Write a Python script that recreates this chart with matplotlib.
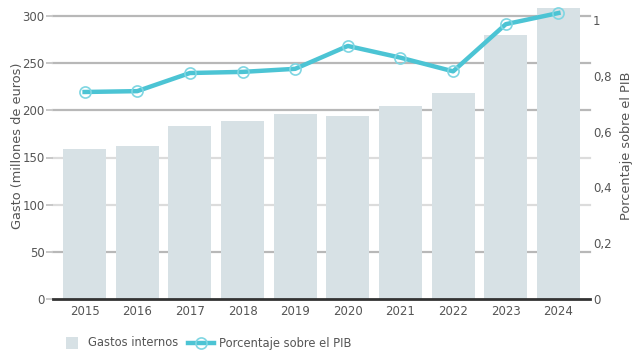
import matplotlib
matplotlib.use("Agg")
import matplotlib.pyplot as plt
from matplotlib.lines import Line2D
from matplotlib.patches import Rectangle

# Data
years = ["2015", "2016", "2017", "2018", "2019", "2020", "2021", "2022", "2023", "2024"]
gastos_internos = [158.7, 162, 183.4, 188.7, 196, 194, 204.6, 218.4, 280, 308.5]
porcentaje_pib = [0.742, 0.745, 0.81, 0.814, 0.825, 0.907, 0.865, 0.816, 0.985, 1.025]
left_ticks = [0, 50, 100, 150, 200, 250, 300]
right_ticks = [0, 0.2, 0.4, 0.6, 0.8, 1.0]
right_tick_labels = ["0", "0,2", "0,4", "0,6", "0,8", "1"]
series_names = ["Gastos internos", "Porcentaje sobre el PIB"]

BAR = "#d7e1e5"
LINE = "#4cc4d4"
MARKER_EDGE = "#7fd6e2"
TEXT = "#555555"

plt.rcParams["font.family"] = ["DejaVu Sans"]

W, H = 633, 352
fig = plt.figure(figsize=(W / 100, H / 100), dpi=100)
ax = fig.add_axes([53 / W, 1 - 299 / H, (590 - 53) / W, (299 - 16) / H])
x = list(range(len(years)))

ax.set_xlim(-0.6, len(years) - 0.4)
ax.set_ylim(0, 300)

# horizontal grid lines (darker and lighter ones)
grid_colors = {50: "#b8b8b8", 100: "#dcdcdc", 150: "#dcdcdc", 200: "#b8b8b8",
               250: "#b8b8b8", 300: "#b8b8b8"}
for v, c in grid_colors.items():
    ax.axhline(v, color=c, lw=1.6, zorder=0, clip_on=False)

ax.bar(x, gastos_internos, width=0.82, color=BAR, zorder=1, clip_on=False)
ax.axhline(0, color="#333333", lw=2, zorder=3, clip_on=False)

for s in ax.spines.values():
    s.set_visible(False)
ax.set_xticks(x)
ax.set_xticklabels(years)
ax.set_yticks(left_ticks)
ax.set_yticklabels([str(t) for t in left_ticks])
ax.tick_params(axis="x", length=0, pad=4, labelsize=8.5, colors=TEXT)
ax.tick_params(axis="y", length=5, width=1.4, color="#c8c8c8", pad=1,
               labelsize=8.5, colors=TEXT)
ax.set_ylabel("Gasto (millones de euros)", fontsize=9.3, color=TEXT,
              labelpad=-1, y=0.54)

ax2 = ax.twinx()
ax2.set_ylim(0, (299 - 16) / (299 - 20))
for s in ax2.spines.values():
    s.set_visible(False)
ax2.plot(x, porcentaje_pib, color=LINE, lw=3.2, zorder=5, clip_on=False,
         marker="o", markersize=8, markerfacecolor="none",
         markeredgecolor=MARKER_EDGE, markeredgewidth=1.2)
ax2.set_yticks(right_ticks)
ax2.set_yticklabels(right_tick_labels)
ax2.tick_params(axis="y", length=0, pad=2, labelsize=8.5, colors=TEXT)
ax2.set_ylabel("Porcentaje sobre el PIB", fontsize=9.3, color=TEXT,
               labelpad=6, y=0.54)

# legend drawn in figure pixel coordinates
def fx(px):
    return px / W

def fy(py):
    return 1 - py / H

ly = 343
fig.patches.append(Rectangle((fx(66), fy(349)), 12 / W, 12 / H,
                             transform=fig.transFigure, facecolor=BAR,
                             edgecolor="none"))
fig.text(fx(88), fy(ly), series_names[0], fontsize=8.3, color=TEXT,
         va="center", ha="left")
fig.lines.append(Line2D([fx(188), fx(214)], [fy(ly), fy(ly)],
                        transform=fig.transFigure, color=LINE, lw=3.2))
fig.lines.append(Line2D([fx(201)], [fy(ly)], transform=fig.transFigure,
                        marker="o", markersize=8, markerfacecolor="none",
                        markeredgecolor=MARKER_EDGE, markeredgewidth=1.2,
                        linestyle="none"))
fig.text(fx(219), fy(ly), series_names[1], fontsize=8.3, color=TEXT,
         va="center", ha="left")

fig.savefig("out.png", dpi=100)
